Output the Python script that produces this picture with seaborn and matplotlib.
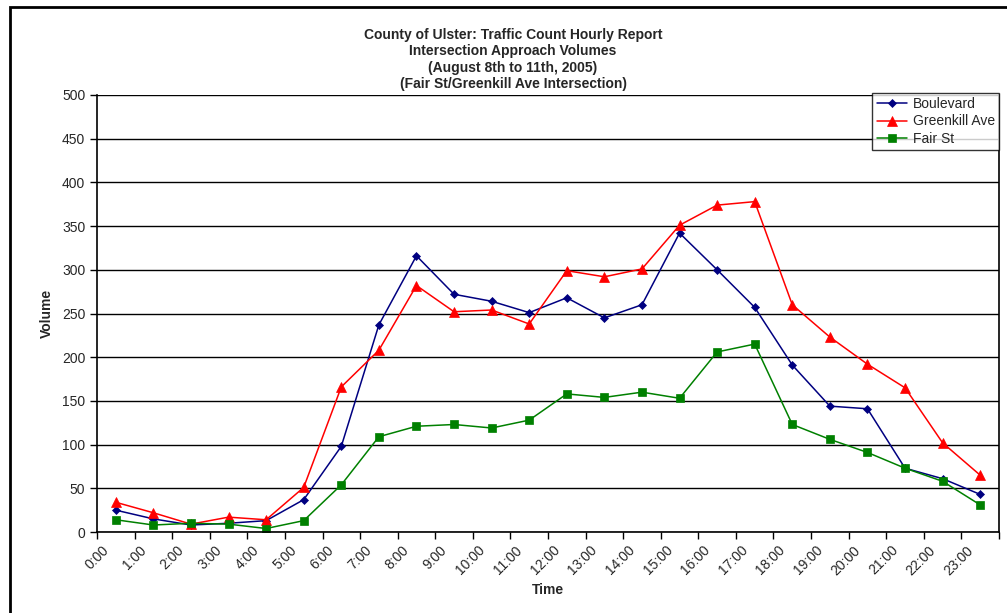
import pandas as pd
import numpy as np
import matplotlib
matplotlib.use('Agg')
import matplotlib.pyplot as plt
from matplotlib.patches import Rectangle
import seaborn as sns

hours = [f'{h}:00' for h in range(24)]
boulevard = [25, 15, 8, 10, 13, 37, 98, 237, 316, 272, 264, 251,
             268, 245, 260, 342, 300, 257, 191, 144, 141, 73, 61, 43]
greenkill = [34, 22, 9, 17, 14, 51, 166, 208, 282, 252, 254, 238,
             299, 292, 301, 351, 374, 378, 260, 223, 192, 165, 102, 65]
fair_st = [14, 8, 10, 9, 4, 13, 54, 109, 121, 123, 119, 128,
           158, 154, 160, 153, 206, 215, 123, 106, 91, 73, 58, 31]
series = ['Boulevard', 'Greenkill Ave', 'Fair St']

rows = []
for name, vals in zip(series, [boulevard, greenkill, fair_st]):
    for i, v in enumerate(vals):
        rows.append({'pos': i + 0.5, 'Volume': v, 'Approach': name})
df = pd.DataFrame(rows)

sns.set_style('white')
plt.rcParams['font.family'] = ['Liberation Sans', 'DejaVu Sans']

fig = plt.figure(figsize=(10.07, 6.13), dpi=100)
ax = fig.add_axes([97/1007, 1 - 532/613, (999-97)/1007, (532-95)/613])

palette = {'Boulevard': '#000080', 'Greenkill Ave': '#FF0000', 'Fair St': '#008000'}
markers = {'Boulevard': 'D', 'Greenkill Ave': '^', 'Fair St': 's'}
sizes = {'Boulevard': 4.5, 'Greenkill Ave': 6.5, 'Fair St': 6}

for name in series:
    sub = df[df['Approach'] == name]
    sns.lineplot(data=sub, x='pos', y='Volume', color=palette[name], marker=markers[name],
                 markersize=sizes[name], markeredgewidth=0.5, markeredgecolor=palette[name],
                 linewidth=1.1, label=name, ax=ax)

ax.set_xlim(0, 24)
ax.set_ylim(0, 500)
ax.set_yticks(range(0, 501, 50))
ax.yaxis.grid(True, color='black', linewidth=1)
ax.set_axisbelow(True)

# tick marks on category boundaries, labels nudged a little right like Excel does
ax.set_xticks(np.arange(25), minor=True)
ax.set_xticks(np.arange(24) + 0.12)
ax.set_xticklabels(hours, rotation=45, ha='right', rotation_mode='anchor', fontsize=10)
ax.tick_params(axis='x', which='major', length=0, pad=8)
ax.tick_params(axis='x', which='minor', direction='out', length=5, width=1, color='black', bottom=True)
ax.tick_params(axis='y', direction='out', length=5, width=1, color='black', left=True, labelsize=10)

for side in ['left', 'bottom', 'right']:
    ax.spines[side].set_visible(True)
    ax.spines[side].set_color('black')
    ax.spines[side].set_linewidth(1.2)
ax.spines['top'].set_visible(False)

ax.set_xlabel('Time', fontsize=10, fontweight='bold', labelpad=4)
ax.set_ylabel('Volume', fontsize=10, fontweight='bold', labelpad=6)

leg = ax.legend(loc='upper right', bbox_to_anchor=(1.0, 1.005), fontsize=10, frameon=True,
                fancybox=False, edgecolor='black', borderpad=0.3, labelspacing=0.25,
                handlelength=2.2, handletextpad=0.4, borderaxespad=0)
leg.get_frame().set_linewidth(1)

title_lines = ['County of Ulster: Traffic Count Hourly Report',
               'Intersection Approach Volumes',
               '(August 8th to 11th, 2005)',
               '(Fair St/Greenkill Ave Intersection)']
for i, line in enumerate(title_lines):
    fig.text(513/1007, 1 - (35 + 16.3*i)/613, line, ha='center', va='center',
             fontsize=10, fontweight='bold')

fig.patches.append(Rectangle((10/1007, -0.1), 1.2, 1.1 - 7/613, transform=fig.transFigure,
                             fill=False, edgecolor='black', linewidth=2))

fig.savefig('out.png', dpi=100)
